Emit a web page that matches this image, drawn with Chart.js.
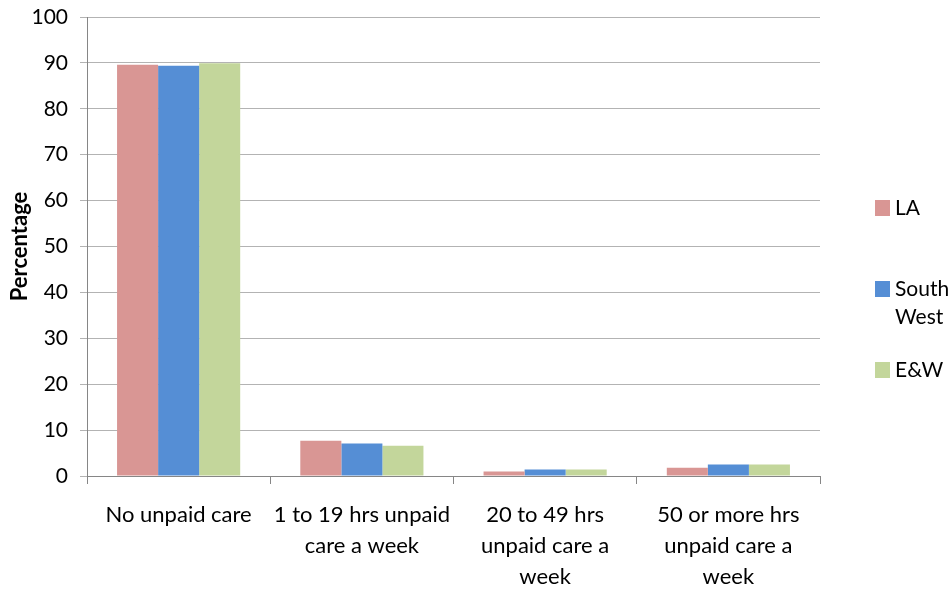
<!DOCTYPE html>
<html>
<head>
<meta charset="utf-8">
<script src="https://cdn.jsdelivr.net/npm/chart.js@4/dist/chart.umd.min.js"></script>
<style>
  body { margin: 0; background: #fff; }
  #wrap { width: 952px; height: 590px; position: relative; }
</style>
</head>
<body>
<div id="wrap"><canvas id="careChart"></canvas></div>
<script>
const categories = [
  "No unpaid care",
  ["1 to 19 hrs unpaid", "care a week"],
  ["20 to 49 hrs", "unpaid care a", "week"],
  ["50 or more hrs", "unpaid care a", "week"]
];
const laValues = [89.6, 7.7, 1.0, 1.8];
const southWestValues = [89.4, 7.1, 1.4, 2.5];
const ewValues = [89.9, 6.6, 1.4, 2.5];
const yTicks = [0, 10, 20, 30, 40, 50, 60, 70, 80, 90, 100];

const fontFamily = "Lato, 'Open Sans', sans-serif";

// legend drawn by hand so "South West" can wrap like the original
const sideLegend = {
  id: "sideLegend",
  afterDraw(chart) {
    const c = chart.ctx;
    const rows = [
      { y: 208, lines: ["LA"] },
      { y: 289, lines: ["South", "West"] },
      { y: 370, lines: ["E&W"] }
    ];
    c.save();
    c.font = "21px " + fontFamily;
    c.textBaseline = "middle";
    c.textAlign = "left";
    chart.data.datasets.forEach((ds, i) => {
      const r = rows[i];
      c.fillStyle = ds.backgroundColor;
      c.fillRect(875, r.y - 8, 15, 16);
      c.fillStyle = "#000";
      r.lines.forEach((t, j) => c.fillText(t, 895, r.y + j * 28));
    });
    c.restore();
  }
};

new Chart(document.getElementById("careChart"), {
  type: "bar",
  data: {
    labels: categories,
    datasets: [
      { label: "LA", data: laValues, backgroundColor: "#d99694" },
      { label: "South West", data: southWestValues, backgroundColor: "#558ed5" },
      { label: "E&W", data: ewValues, backgroundColor: "#c3d69b" }
    ]
  },
  options: {
    responsive: true,
    maintainAspectRatio: false,
    animation: false,
    layout: { padding: { top: 0, right: 132, left: 0, bottom: 0 } },
    datasets: { bar: { categoryPercentage: 0.672, barPercentage: 1 } },
    plugins: { legend: { display: false }, tooltip: { enabled: false } },
    scales: {
      x: {
        grid: { offset: true, drawOnChartArea: false, drawTicks: true, tickLength: 8, color: "#868686" },
        border: { color: "#868686" },
        ticks: { color: "#000", font: { family: fontFamily, size: 22, lineHeight: 1.42 }, maxRotation: 0, padding: 15 },
        afterFit(scale) { scale.height = 114; }
      },
      y: {
        min: 0,
        max: 100,
        afterBuildTicks(scale) { scale.ticks = yTicks.map(v => ({ value: v })); },
        grid: { color: "#b3b3b3", tickLength: 7 },
        border: { color: "#868686" },
        ticks: { color: "#000", font: { family: fontFamily, size: 21 }, padding: 12 },
        title: {
          display: true,
          text: "Percentage",
          color: "#000",
          font: { family: fontFamily, size: 22, weight: "bold" },
          padding: { top: 7, bottom: 0 }
        },
        afterFit(scale) {
          scale.width = 87;
          scale.paddingTop = 17;
          scale.paddingBottom = 0;
        }
      }
    }
  },
  plugins: [sideLegend]
});
</script>
</body>
</html>
